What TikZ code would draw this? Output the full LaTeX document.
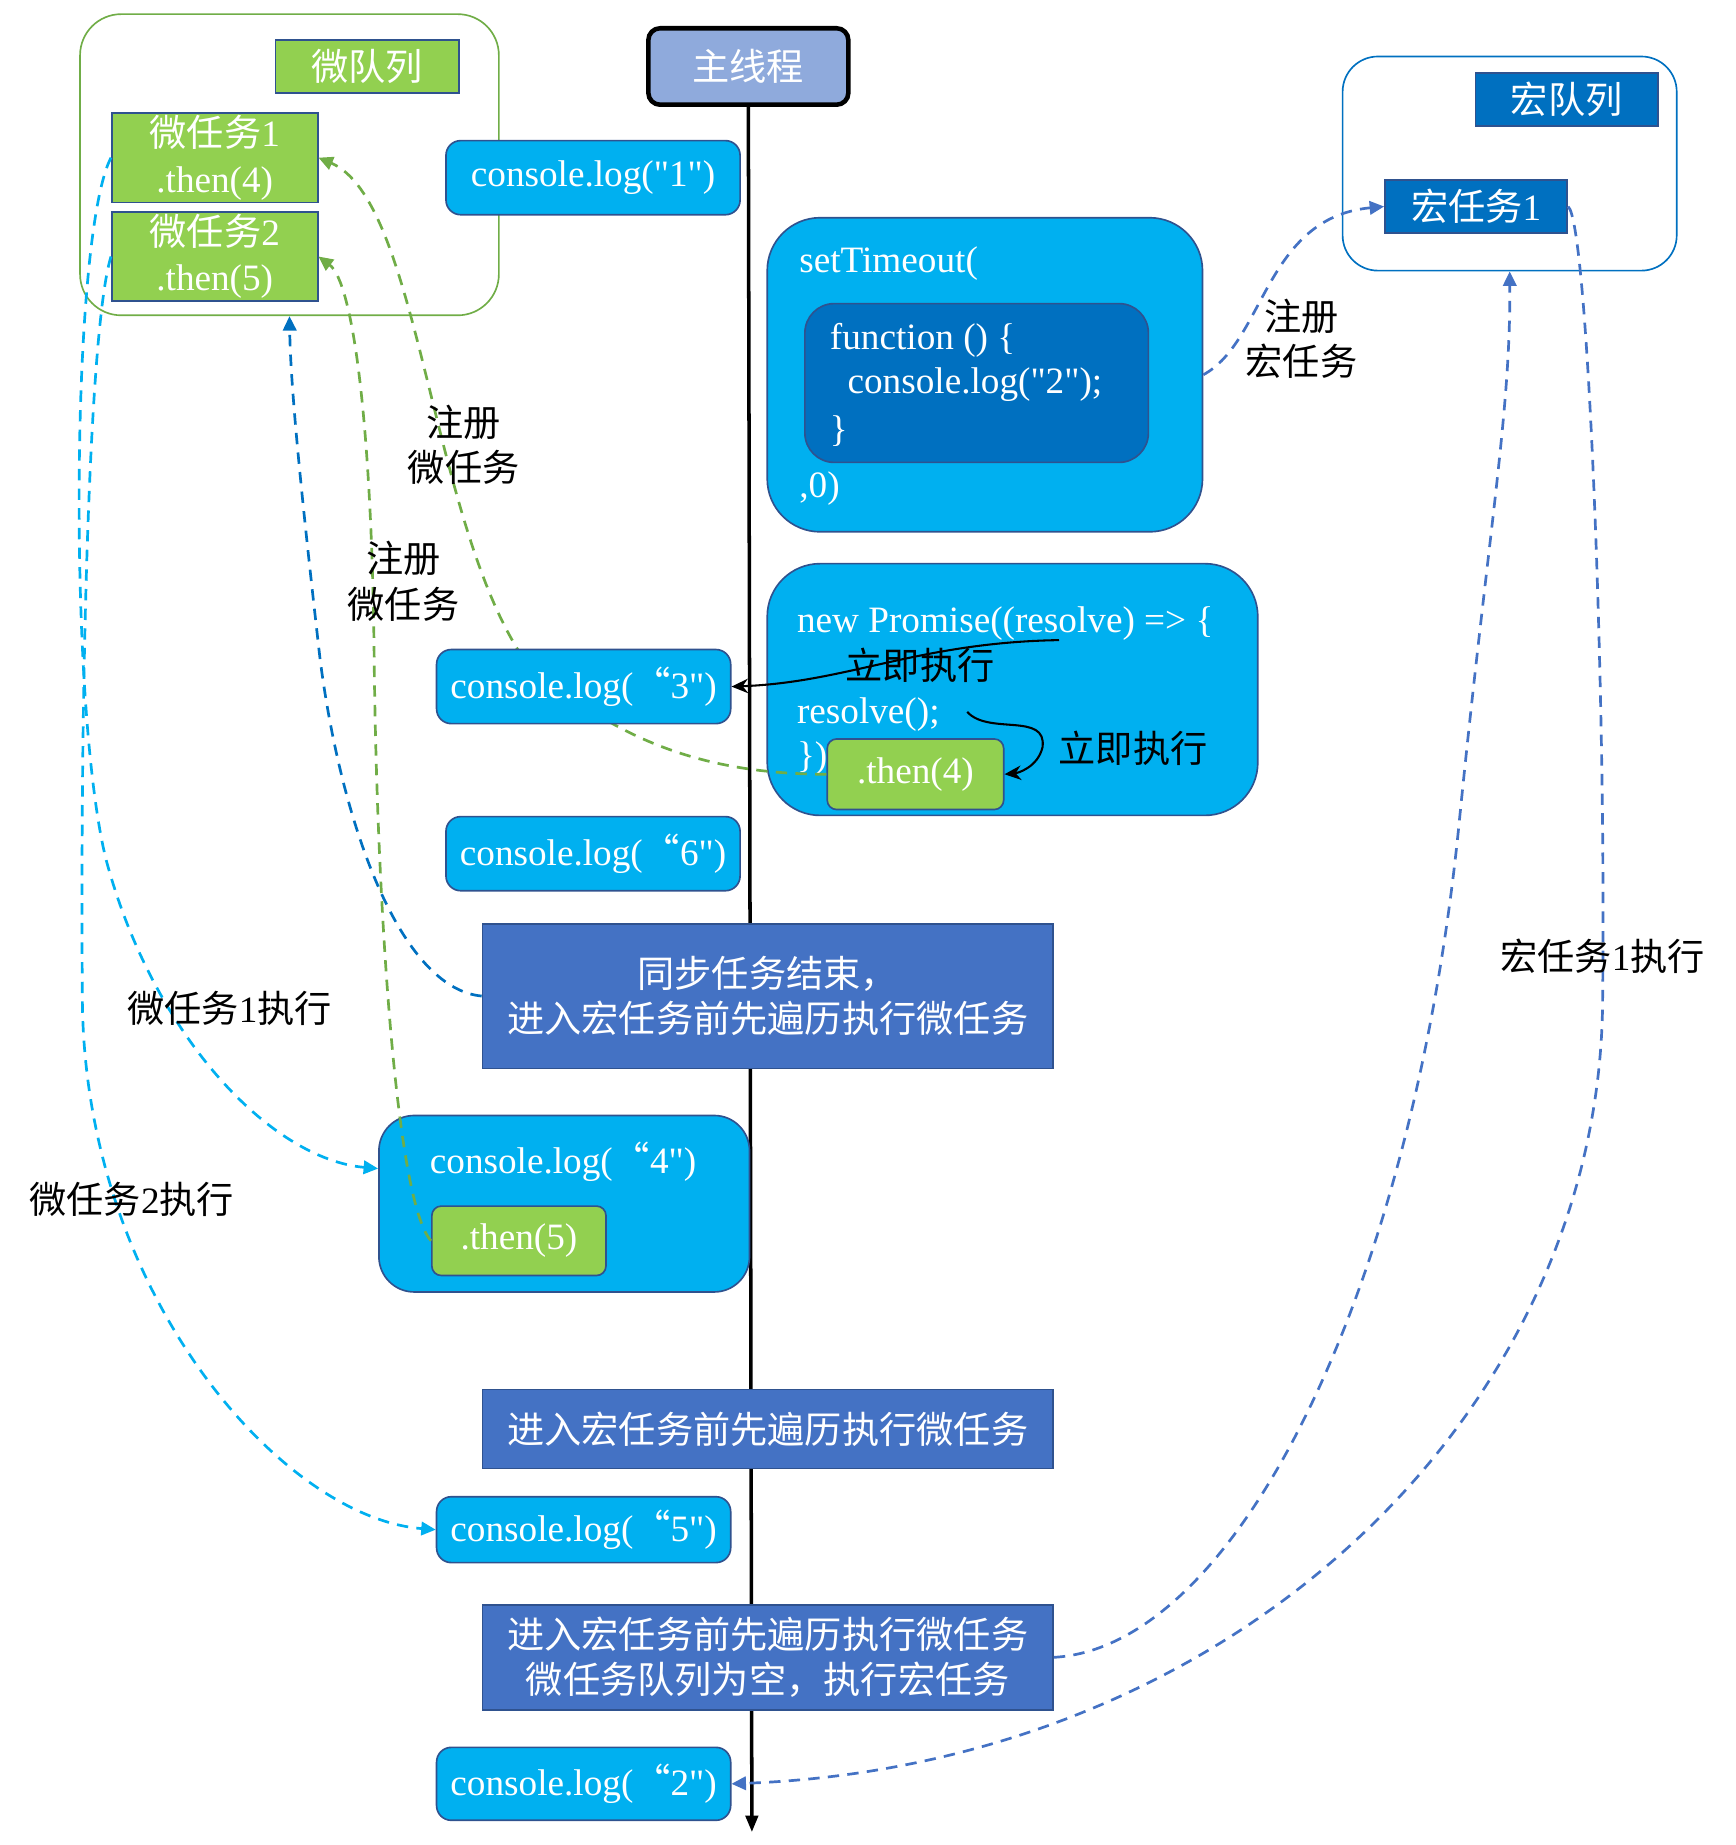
\documentclass[tikz,border=0pt]{standalone}
\usepackage{fontspec}
\setmainfont{Liberation Serif}[Ligatures=TeXOff]
\newfontfamily\cjkfont{Noto Sans CJK SC}
\newcommand{\zh}[1]{{\cjkfont #1}}
\usepackage{tikz}
\usetikzlibrary{arrows.meta,positioning}
\usepackage{xcolor}
\definecolor{dfcyan}{RGB}{0,176,240}
\definecolor{dfblue}{RGB}{0,112,192}
\definecolor{dfsteel}{RGB}{68,114,196}
\definecolor{dfborder}{RGB}{47,82,143}
\definecolor{dfgreen}{RGB}{146,208,80}
\definecolor{dfolive}{RGB}{112,173,71}
\definecolor{dfpale}{RGB}{143,170,220}
\tikzstyle{logbox} = [rectangle, rounded corners=0.25cm, minimum width=5cm, minimum height=1.26cm, text centered, draw=dfborder, fill=dfcyan, text=white, line width=0.8pt]
\tikzstyle{codebox} = [rectangle, rounded corners=0.9cm, draw=dfborder, fill=dfcyan, line width=0.8pt]
\tikzstyle{stepbox} = [rectangle, minimum width=9.7cm, align=center, draw=dfborder, fill=dfsteel, text=white, line width=0.8pt]
\tikzstyle{taskbox} = [rectangle, align=center, draw=dfborder, fill=dfgreen, text=white, line width=0.8pt, inner sep=0pt]
\tikzstyle{queue} = [rectangle, rounded corners=0.7cm, line width=0.8pt]
\tikzstyle{code} = [anchor=west, text=white, inner sep=0pt]
\tikzstyle{note} = [align=center, inner sep=0pt]
\tikzstyle{flow} = [line width=1.3pt, dash pattern=on 5.5pt off 4pt, -{Triangle[length=7pt,width=6.5pt]}]
\tikzstyle{runarrow} = [line width=1pt, black, -{Stealth[length=8pt,width=7pt]}]

\begin{document}
\begin{tikzpicture}[x=0.02cm, y=-0.02cm, font=\fontsize{18}{22}\selectfont]
\useasboundingbox (0,0) rectangle (1475,1568);

% Main thread
\node[rectangle, rounded corners=0.2cm, draw=black, line width=2.2pt, fill=dfpale, text=white, minimum width=3.4cm, minimum height=1.3cm] (main) at (636,56.5) {\zh{主线程}};
\coordinate (tend) at (639,1557);
\draw[line width=1.7pt, -{Triangle[length=8pt,width=6pt]}] (main.south) -- (tend);

% Micro queue
\node[queue, draw=dfolive, minimum width=7.12cm, minimum height=5.12cm] (mq) at (246,140) {};
\node[taskbox, minimum width=3.12cm, minimum height=0.9cm] (mqname) at (312,56.5) {\zh{微队列}};
\node[taskbox, minimum width=3.5cm, minimum height=1.52cm] (mt1) at (182.5,134) {\zh{微任务}1\\.then(4)};
\node[taskbox, minimum width=3.5cm, minimum height=1.52cm] (mt2) at (182.5,218) {\zh{微任务}2\\.then(5)};

% Macro queue
\node[queue, draw=dfblue, rounded corners=0.6cm, minimum width=5.68cm, minimum height=3.64cm] (mcq) at (1283,139) {};
\node[taskbox, fill=dfblue, minimum width=3.1cm, minimum height=0.9cm] (mcqname) at (1331.5,84.5) {\zh{宏队列}};
\node[taskbox, fill=dfblue, minimum width=3.1cm, minimum height=0.9cm] (mt3) at (1254.5,175.5) {\zh{宏任务}1};

% Code on the main thread
\node[logbox] (log1) at (504,151) {console.log("1")};

\node[codebox, minimum width=7.4cm, minimum height=5.34cm] (timeout) at (837,318.5) {};
\node[codebox, fill=dfblue, rounded corners=0.5cm, minimum width=5.84cm, minimum height=2.7cm] (func) at (830,325.5) {};
\node[code] (st) at (679,224) {setTimeout(};
\node[code] (fn) at (705,289) {function () \{};
\node[code] (fnlog) at (720,327) {console.log("2");};
\node[code] (fnend) at (705,366) {\}};
\node[code] (zero) at (679,415) {,0)};

\node[codebox, minimum width=8.34cm, minimum height=4.28cm] (promise) at (860.5,586) {};
\node[code] (np) at (677,530) {new Promise((resolve) => \{};
\node[code] (rs) at (677,607) {resolve();};
\node[code] (pend) at (677,645) {\})};
\node[taskbox, rounded corners=0.16cm, minimum width=3cm, minimum height=1.2cm] (then4) at (778,658) {.then(4)};

\node[logbox] (log6) at (504,725.5) {console.log(\zh{“}6")};
\node[stepbox, minimum height=2.46cm] (sync) at (652.5,846.5) {\zh{同步任务结束，}\\\zh{进入宏任务前先遍历执行微任务}};

\node[codebox, rounded corners=0.6cm, minimum width=6.3cm, minimum height=3cm] (log4) at (479.5,1023) {};
\node[code] (log4txt) at (365,987) {console.log(\zh{“}4")};
\node[taskbox, rounded corners=0.16cm, minimum width=2.96cm, minimum height=1.18cm] (then5) at (441,1054.5) {.then(5)};

\node[stepbox, minimum height=1.34cm] (enter) at (652.5,1214.5) {\zh{进入宏任务前先遍历执行微任务}};
\node[logbox, minimum height=1.12cm] (log5) at (496,1300) {console.log(\zh{“}5")};
\node[stepbox, minimum height=1.78cm] (last) at (652.5,1408.5) {\zh{进入宏任务前先遍历执行微任务}\\\zh{微任务队列为空，执行宏任务}};
\node[logbox, minimum height=1.24cm] (log2) at (496,1516) {console.log(\zh{“}2")};

% then(4) registered, runs behind log 3
\draw[flow, dfolive] (then4.west) .. controls (610,658) and (520,635) .. (440,552) .. controls (365,430) and (355,170) .. (mt1.east);
\node[logbox] (log3) at (496,583.5) {console.log(\zh{“}3")};

% Connections
\draw[flow, dfolive] (then5.west) .. controls (335,1020) and (320,750) .. (318,560) .. controls (316,360) and (300,240) .. (mt2.east);
\draw[flow, dfblue] (sync.west) .. controls (340,840) and (290,700) .. (272,560) .. controls (256,420) and (247,330) .. (mq.south);
\draw[flow, dfcyan] (mt1.west) .. controls (60,200) and (58,600) .. (90,730) .. controls (130,880) and (230,985) .. ([yshift=17pt]log4.west);
\draw[flow, dfcyan] (mt2.west) .. controls (75,280) and (68,600) .. (70,850) .. controls (72,1100) and (240,1290) .. (log5.west);
\draw[flow, dfsteel] (timeout.east) .. controls (1075,290) and (1075,185) .. (mt3.west);
\draw[flow, dfsteel] (last.east) .. controls (1050,1400) and (1200,1100) .. (1240,700) .. controls (1265,450) and (1284,350) .. (mcq.south);
\draw[flow, dfsteel] (mt3.east) .. controls (1350,190) and (1365,600) .. (1362,850) .. controls (1360,1200) and (1050,1500) .. (log2.east);

\coordinate (under) at (900,544);
\draw[runarrow] (under) .. controls (780,546) and (720,580) .. (log3.east);
\coordinate (after) at (822,605);
\draw[runarrow] (after) .. controls (840,625) and (890,605) .. (886,635) .. controls (882,652) and (865,657) .. (then4.east);

% Labels
\node[note] (reg1) at (394,378) {\zh{注册}\\\zh{微任务}};
\node[note] (reg2) at (343,494) {\zh{注册}\\\zh{微任务}};
\node[note] (reg3) at (1106,288) {\zh{注册}\\\zh{宏任务}};
\node[note] (exec1) at (195,857) {\zh{微任务}1\zh{执行}};
\node[note] (exec2) at (112,1019) {\zh{微任务}2\zh{执行}};
\node[note] (exec3) at (1362,813) {\zh{宏任务}1\zh{执行}};
\node[note] (now1) at (782,565) {\zh{立即执行}};
\node[note] (now2) at (963,636) {\zh{立即执行}};
\end{tikzpicture}
\end{document}
